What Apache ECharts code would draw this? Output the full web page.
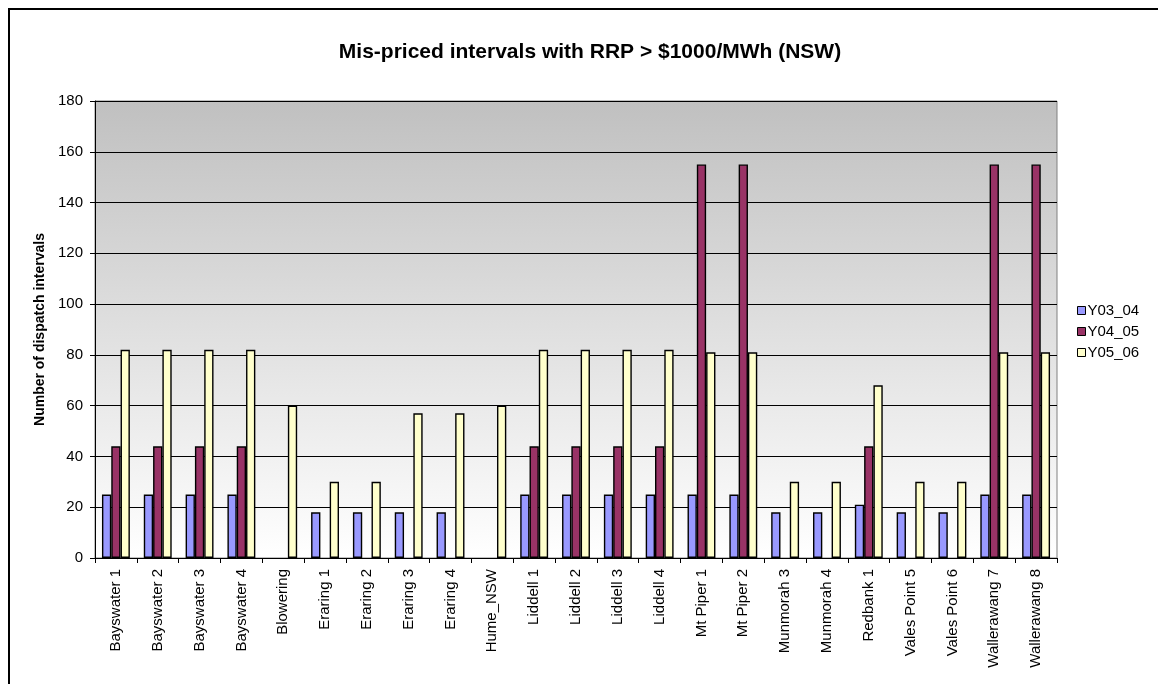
<!DOCTYPE html>
<html>
<head>
<meta charset="utf-8">
<script src="https://cdn.jsdelivr.net/npm/echarts@6/dist/echarts.min.js"></script>
<style>
  body { margin: 0; background: #fff; }
  #frame {
    position: absolute; left: 8px; top: 8px; width: 1200px; height: 720px;
    border-left: 2px solid #000; border-top: 2px solid #000;
  }
  #chart { position: absolute; left: 0; top: 0; width: 1158px; height: 684px; }
</style>
</head>
<body>
<div id="frame"></div>
<div id="chart"></div>
<script>
const categories = ['Bayswater 1', 'Bayswater 2', 'Bayswater 3', 'Bayswater 4', 'Blowering',
  'Eraring 1', 'Eraring 2', 'Eraring 3', 'Eraring 4', 'Hume_NSW',
  'Liddell 1', 'Liddell 2', 'Liddell 3', 'Liddell 4', 'Mt Piper 1', 'Mt Piper 2',
  'Munmorah 3', 'Munmorah 4', 'Redbank 1', 'Vales Point 5', 'Vales Point 6',
  'Wallerawang 7', 'Wallerawang 8'];
const y03_04 = [25, 25, 25, 25, null, 18, 18, 18, 18, null, 25, 25, 25, 25, 25, 25, 18, 18, 21, 18, 18, 25, 25];
const y04_05 = [44, 44, 44, 44, null, null, null, null, null, null, 44, 44, 44, 44, 155, 155, null, null, 44, null, null, 155, 155];
const y05_06 = [82, 82, 82, 82, 60, 30, 30, 57, 57, 60, 82, 82, 82, 82, 81, 81, 30, 30, 68, 30, 30, 81, 81];
const seriesNames = ['Y03_04', 'Y04_05', 'Y05_06'];
const seriesColors = ['#9999FF', '#993366', '#FFFFCC'];

let chart = echarts.init(document.getElementById('chart'));

function barSeries(i, data) {
  return {
    name: seriesNames[i],
    type: 'bar',
    data: data,
    barWidth: 9.3,
    barGap: '0%',
    itemStyle: { color: seriesColors[i], borderColor: '#000', borderWidth: 1.4 }
  };
}

let option = {
  animation: false,
  textStyle: { fontFamily: 'Liberation Sans, Arial, sans-serif' },
  title: {
    text: 'Mis-priced intervals with RRP > $1000/MWh (NSW)',
    left: 585, top: 37, textAlign: 'center',
    textStyle: { fontSize: 21, fontWeight: 'bold', color: '#000', fontFamily: 'Liberation Sans, Arial, sans-serif' }
  },
  legend: {
    orient: 'vertical',
    left: 1072, top: 298,
    itemWidth: 8, itemHeight: 8, itemGap: 6,
    textStyle: { fontSize: 15, color: '#000', padding: [0, 0, 0, -3] },
    data: seriesNames.map(n => ({ name: n, icon: 'rect', itemStyle: { borderColor: '#000', borderWidth: 1 } }))
  },
  grid: { left: 95, top: 101, width: 962, height: 457, containLabel: false },
  xAxis: {
    type: 'category',
    data: categories,
    axisLine: { lineStyle: { color: '#000' } },
    axisTick: { show: true, alignWithLabel: false, length: 5, lineStyle: { color: '#000' } },
    axisLabel: { rotate: 90, fontSize: 15, color: '#000', margin: 11, interval: 0 }
  },
  yAxis: {
    type: 'value',
    min: 0, max: 180, interval: 20,
    name: 'Number of dispatch intervals',
    nameLocation: 'middle',
    nameGap: 44,
    nameTextStyle: { fontSize: 14, fontWeight: 'bold', color: '#000' },
    axisLine: { show: true, lineStyle: { color: '#000' } },
    axisTick: { show: true, length: 5, lineStyle: { color: '#000' } },
    axisLabel: { fontSize: 15, color: '#000', margin: 12 },
    splitLine: { lineStyle: { color: '#000', width: 1 } },
    splitArea: { show: false }
  },
  series: [
    barSeries(0, y03_04),
    barSeries(1, y04_05),
    barSeries(2, y05_06)
  ],
  graphic: [{
    type: 'rect',
    z: -10,
    shape: { x: 95, y: 101, width: 962, height: 457 },
    style: {
      fill: new echarts.graphic.LinearGradient(0, 0, 0, 1, [
        { offset: 0, color: '#c0c0c0' },
        { offset: 1, color: '#ffffff' }
      ]),
      stroke: '#808080', lineWidth: 1
    }
  }]
};
chart.setOption(option);
</script>
</body>
</html>
